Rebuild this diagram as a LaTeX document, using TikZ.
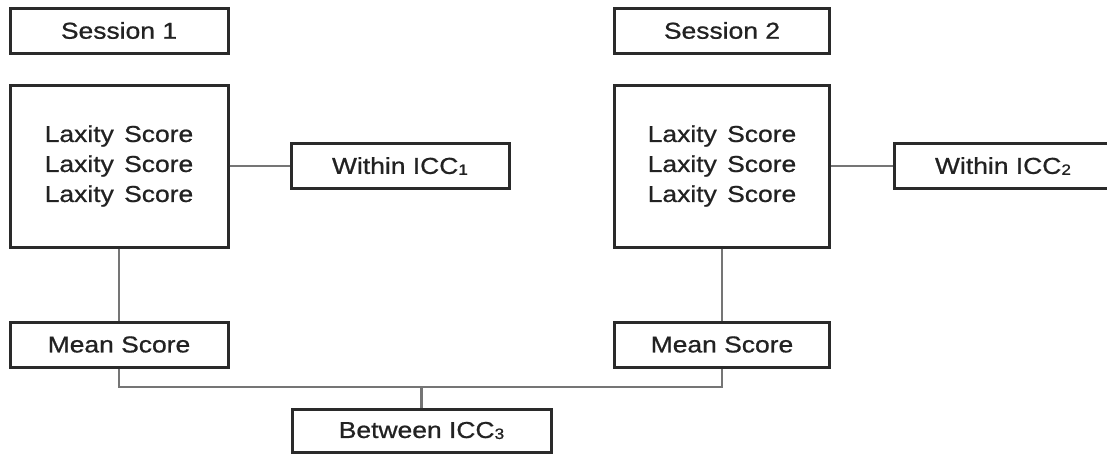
\documentclass[tikz,border=0pt]{standalone}
\usepackage{fontspec}
\setmainfont{Liberation Sans}[FakeStretch=1.15,FakeBold=0.8]
\newcommand\icsub[1]{{\fontsize{15}{15}\selectfont\raisebox{-1pt}{#1}}}
\definecolor{boxline}{HTML}{2A2A2A}
\definecolor{conline}{HTML}{757575}
\definecolor{txt}{HTML}{222222}
\begin{document}
\begin{tikzpicture}[x=1pt,y=-1pt,
  box/.style={draw=boxline,line width=3pt,fill=white,inner sep=0pt,
    minimum width=218pt,minimum height=45pt,text=txt,
    font=\fontsize{23}{30}\selectfont,align=center},
  conn/.style={draw=conline,line width=2.8pt}]
\useasboundingbox (0,0) rectangle (1107,455);
\clip (0,0) rectangle (1107,455);
% column 1
\node[box] (s1) at (119,30.5) {Session 1};
\node[box,minimum height=162pt] (l1) at (119,166) {Laxity\hspace{0.45em}Score\\Laxity\hspace{0.45em}Score\\Laxity\hspace{0.45em}Score};
\node[box] (w1) at (400,166) {Within ICC\icsub{1}};
\node[box] (m1) at (119,344.5) {Mean Score};
% column 2
\node[box,minimum width=215pt] (s2) at (722,30.5) {Session 2};
\node[box,minimum width=215pt,minimum height=162pt] (l2) at (722,166) {Laxity\hspace{0.45em}Score\\Laxity\hspace{0.45em}Score\\Laxity\hspace{0.45em}Score};
\node[box] (w2) at (1003,166) {Within ICC\icsub{2}};
\node[box,minimum width=215pt] (m2) at (722,344.5) {Mean Score};
% between
\node[box,minimum width=259pt,minimum height=43pt] (b) at (421.5,430.5) {Between ICC\icsub{3}};
\coordinate (j1) at (119,387);
\coordinate (j2) at (722,387);
% connectors
\draw[conn] (l1.east) -- (w1.west);
\draw[conn] (l2.east) -- (w2.west);
\draw[conn] (l1.south) -- (m1.north);
\draw[conn] (l2.south) -- (m2.north);
\draw[conn] (m1.south) -- (j1) -- (j2) -- (m2.south);
\draw[conn] (b.north) -- (b.north |- j1);
\end{tikzpicture}
\end{document}
